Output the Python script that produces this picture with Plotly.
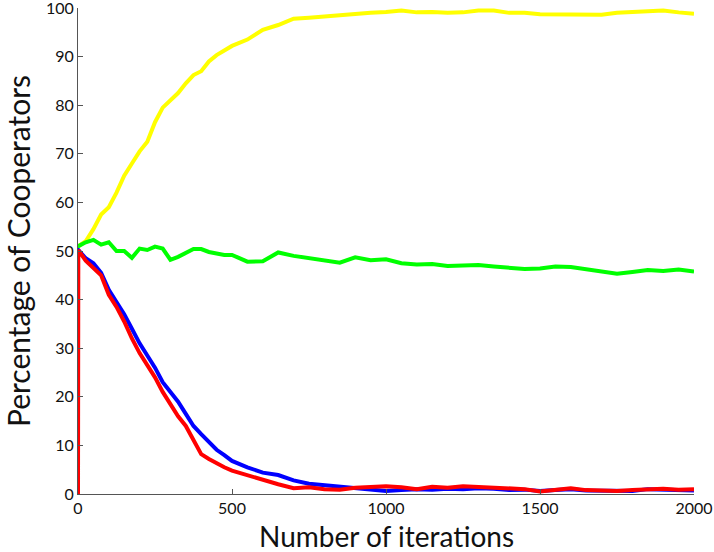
import plotly.graph_objects as go

# Iteration grid
iters = [0, 1, 25, 50, 75, 100, 125, 150, 175, 200, 225, 250, 275, 300, 325, 350,
         375, 400, 425, 450, 475, 500, 550, 600, 650, 700, 750, 800, 850, 900, 950,
         1000, 1050, 1100, 1150, 1200, 1250, 1300, 1350, 1400, 1450, 1500, 1550,
         1600, 1650, 1700, 1750, 1800, 1850, 1900, 1950, 2000]

yellow = [51, 51, 52, 54.5, 57.5, 59, 62, 65.5, 68, 70.5, 72.5, 76.5, 79.5, 81, 82.5,
          84.5, 86.2, 87, 89, 90.3, 91.2, 92.2, 93.5, 95.5, 96.5, 97.8, 98, 98.3,
          98.6, 98.8, 99, 99.2, 99.5, 99.1, 99.2, 99.0, 99.1, 99.5, 99.5, 99.0, 99.0,
          98.7, 98.7, 98.8, 98.8, 98.6, 99.0, 99.2, 99.4, 99.5, 99.1, 98.8]

green = [51, 51, 51.8, 52.3, 51.3, 51.8, 50, 50, 48.6, 50.5, 50.2, 50.9, 50.5, 48.2,
         48.8, 49.6, 50.4, 50.4, 49.8, 49.5, 49.2, 49.2, 47.8, 47.9, 49.7, 49, 48.5,
         48, 47.6, 48.7, 48.1, 48.3, 47.5, 47.2, 47.3, 46.9, 47.0, 47.1, 46.8, 46.5,
         46.3, 46.4, 46.8, 46.7, 46.2, 45.9, 45.3, 45.7, 46.1, 45.9, 46.2, 45.8]

blue = [50.2, 50.2, 48.5, 47.5, 45.5, 42, 39.5, 37, 34, 31, 28.5, 26, 23, 21, 19, 16.5,
        14, 12.3, 10.8, 9.1, 8, 6.8, 5.5, 4.4, 3.9, 2.8, 2.1, 1.8, 1.5, 1.2, 0.8, 0.6,
        0.8, 1.0, 0.9, 1.1, 1.0, 1.2, 1.1, 0.8, 0.9, 0.6, 0.8, 1.0, 0.7, 0.6, 0.5,
        0.6, 1.0, 0.9, 0.8, 0.7]

red = [0, 50.2, 48, 46.5, 45, 41, 38.5, 35.5, 32, 29, 26.5, 24, 21, 18.5, 16, 14, 11,
       8.2, 7.2, 6.3, 5.5, 4.8, 3.8, 2.9, 2.0, 1.2, 1.4, 1.0, 0.9, 1.3, 1.5, 1.6, 1.4,
       1.0, 1.5, 1.3, 1.6, 1.5, 1.3, 1.1, 1.0, 0.5, 0.9, 1.2, 0.8, 0.7, 0.6, 0.8, 1.0,
       1.1, 0.9, 1.0]

x_ticks = [0, 500, 1000, 1500, 2000]
y_ticks = [0, 10, 20, 30, 40, 50, 60, 70, 80, 90, 100]

fig = go.Figure()
for vals, col in [(yellow, '#ffff00'), (green, '#00ff00'), (blue, '#0000ff'), (red, '#ff0000')]:
    fig.add_trace(go.Scatter(x=iters, y=vals, mode='lines',
                             line=dict(color=col, width=4), cliponaxis=False))

axis_style = dict(showgrid=False, zeroline=False, showline=True, linecolor='#555555',
                  linewidth=1, ticks='inside', ticklen=5, tickcolor='#555555',
                  mirror=False, automargin=False, ticklabeloverflow='allow',
                  tickfont=dict(size=16, color='#111111'))

fig.update_xaxes(range=[0, 2000], tickvals=x_ticks, **axis_style)
fig.update_yaxes(range=[0, 100], tickvals=y_ticks, **axis_style)

# axis titles as annotations for exact placement
fig.add_annotation(text='Number of iterations', xref='paper', yref='paper',
                   x=0.5, y=0, yanchor='middle', yshift=-42, showarrow=False,
                   font=dict(size=28, color='#111111'))
fig.add_annotation(text='Percentage of Cooperators', xref='paper', yref='paper',
                   x=0, y=0.5, xanchor='center', xshift=-60, textangle=-90, showarrow=False,
                   font=dict(size=30, color='#111111'))

fig.update_layout(
    width=714, height=552,
    font=dict(family='Lato'),
    paper_bgcolor='white', plot_bgcolor='white',
    showlegend=False,
    margin=dict(l=78, r=20, t=8, b=58),
)

# drop the default 8px page margin so the figure sits at the window corner
fig.write_html("out.html", config={'displayModeBar': False},
               post_script="document.body.style.margin='0px';")
